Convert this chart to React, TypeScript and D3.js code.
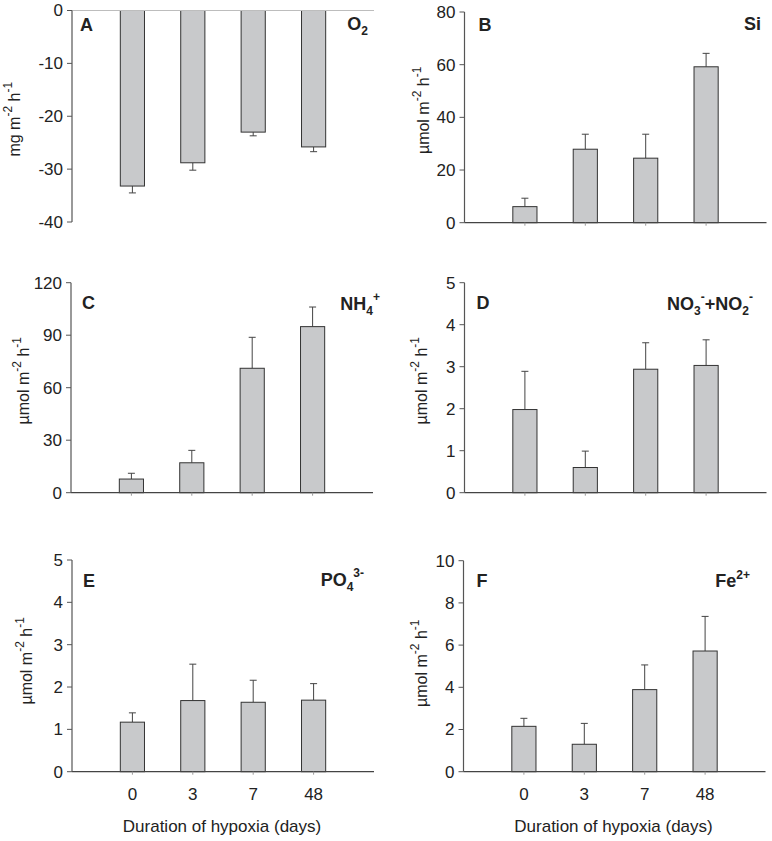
import React from "react";
import * as d3 from "d3";

const categories = ["0", "3", "7", "48"];

const o2Means = [-33.2, -28.8, -23.0, -25.8];
const o2SE = [1.3, 1.4, 0.7, 0.9];
const o2Ticks = [0, -10, -20, -30, -40];

const siMeans = [6.1, 27.9, 24.5, 59.2];
const siSE = [3.2, 5.7, 9.1, 5.1];
const siTicks = [0, 20, 40, 60, 80];

const nh4Means = [7.8, 17.1, 71.1, 94.9];
const nh4SE = [3.3, 7.1, 17.7, 11.2];
const nh4Ticks = [0, 30, 60, 90, 120];

const noxMeans = [1.98, 0.6, 2.94, 3.03];
const noxSE = [0.91, 0.39, 0.63, 0.61];
const noxTicks = [0, 1, 2, 3, 4, 5];

const po4Means = [1.17, 1.68, 1.64, 1.69];
const po4SE = [0.22, 0.86, 0.52, 0.39];
const po4Ticks = [0, 1, 2, 3, 4, 5];

const feMeans = [2.15, 1.3, 3.89, 5.72];
const feSE = [0.38, 0.99, 1.17, 1.64];
const feTicks = [0, 2, 4, 6, 8, 10];

const xLabel = "Duration of hypoxia (days)";

const FONT = "'Liberation Sans', Arial, Helvetica, sans-serif";
const TXT = "#222";

type Panel = {
  letter: string;
  means: number[];
  se: number[];
  ticks: number[];
  unit: "mg" | "umol";
  chem: React.ReactNode;
  axisX: number;
  top: number;
  bottom: number;
  letterDx: number;
  letterDy: number;
  chemRight: number;
  chemBase: number;
  labelX: number;
  labelDy: number;
  showX: boolean;
};

const panels: Panel[] = [
  {
    letter: "A", means: o2Means, se: o2SE, ticks: o2Ticks, unit: "mg",
    chem: (<>O<tspan dy={5} fontSize={12}>2</tspan></>),
    axisX: 72, top: 10.5, bottom: 222, letterDx: 8, letterDy: 20, chemRight: 368, chemBase: 30, labelX: 20, labelDy: 3, showX: false,
  },
  {
    letter: "B", means: siMeans, se: siSE, ticks: siTicks, unit: "umol",
    chem: (<>Si</>),
    axisX: 464.5, top: 12, bottom: 222.7, letterDx: 14, letterDy: 19, chemRight: 761, chemBase: 30, labelX: 429, labelDy: -7, showX: false,
  },
  {
    letter: "C", means: nh4Means, se: nh4SE, ticks: nh4Ticks, unit: "umol",
    chem: (<>NH<tspan dy={5} fontSize={12}>4</tspan><tspan dy={-14} fontSize={12}>+</tspan></>),
    axisX: 71, top: 282.7, bottom: 492.7, letterDx: 11, letterDy: 26, chemRight: 380, chemBase: 310, labelX: 28.5, labelDy: -7, showX: false,
  },
  {
    letter: "D", means: noxMeans, se: noxSE, ticks: noxTicks, unit: "umol",
    chem: (<>NO<tspan dy={5} fontSize={12}>3</tspan><tspan dy={-14} fontSize={12}>-</tspan><tspan dy={9}>+NO</tspan><tspan dy={5} fontSize={12}>2</tspan><tspan dy={-14} fontSize={12}>-</tspan></>),
    axisX: 464.5, top: 282.7, bottom: 492.7, letterDx: 12, letterDy: 26, chemRight: 753, chemBase: 310, labelX: 427, labelDy: -7, showX: false,
  },
  {
    letter: "E", means: po4Means, se: po4SE, ticks: po4Ticks, unit: "umol",
    chem: (<>PO<tspan dy={5} fontSize={12}>4</tspan><tspan dy={-14} fontSize={12}>3-</tspan></>),
    axisX: 72, top: 560, bottom: 771.7, letterDx: 11, letterDy: 27, chemRight: 364, chemBase: 586, labelX: 32, labelDy: -5, showX: true,
  },
  {
    letter: "F", means: feMeans, se: feSE, ticks: feTicks, unit: "umol",
    chem: (<>Fe<tspan dy={-8} fontSize={12}>2+</tspan></>),
    axisX: 463.5, top: 560.7, bottom: 771.7, letterDx: 13, letterDy: 26, chemRight: 750, chemBase: 586.7, labelX: 427, labelDy: -3, showX: true,
  },
];

const PLOT_W = 302;

function PanelView({ p }: { p: Panel }) {
  const yMin = d3.min(p.ticks) as number;
  const yMax = d3.max(p.ticks) as number;
  const y = d3.scaleLinear().domain([yMin, yMax]).range([p.bottom, p.top]);
  const x = d3.scaleLinear().domain([0, categories.length + 1]).range([p.axisX, p.axisX + PLOT_W]);
  const bw = x(0.4) - x(0);
  const y0 = y(0);
  const midY = (p.top + p.bottom) / 2 + p.labelDy;
  return (
    <g>
      {p.means.map((m, i) => {
        const cx = x(i + 1);
        const ym = y(m);
        const dir = m >= 0 ? 1 : -1;
        const ye = y(m + dir * p.se[i]);
        return (
          <g key={i}>
            <line x1={cx} x2={cx} y1={ym} y2={ye} stroke="#444" strokeWidth={1} />
            <line x1={cx - 3.5} x2={cx + 3.5} y1={ye} y2={ye} stroke="#444" strokeWidth={1} />
            <rect
              x={cx - bw / 2}
              y={Math.min(ym, y0)}
              width={bw}
              height={Math.abs(y0 - ym)}
              fill="#c8c9cb"
              stroke="#333"
              strokeWidth={1}
            />
          </g>
        );
      })}
      {yMin < 0 ? (
        <line x1={p.axisX} x2={p.axisX + PLOT_W} y1={y0} y2={y0} stroke="#bdbdbd" strokeWidth={1.2} />
      ) : (
        <g>
          <line x1={p.axisX} x2={p.axisX + PLOT_W} y1={y0} y2={y0} stroke="#444" strokeWidth={1.2} />
          {categories.map((c, i) => (
            <line key={c} x1={x(i + 1)} x2={x(i + 1)} y1={y0} y2={y0 + 3} stroke="#999" strokeWidth={1} />
          ))}
        </g>
      )}
      <line x1={p.axisX} x2={p.axisX} y1={p.top} y2={p.bottom} stroke="#555" strokeWidth={1.2} />
      {p.ticks.map((t) => (
        <g key={t}>
          <line x1={p.axisX - 5} x2={p.axisX} y1={y(t)} y2={y(t)} stroke="#555" strokeWidth={1} />
          <text x={p.axisX - 9} y={y(t)} dy="0.35em" textAnchor="end" fontSize={17} fill={TXT}>
            {t}
          </text>
        </g>
      ))}
      <text transform={`translate(${p.labelX},${midY}) rotate(-90)`} textAnchor="middle" fontSize={16} fill={TXT}>
        {p.unit === "mg" ? "mg m" : "\u00b5mol m"}
        <tspan dy={-8} fontSize={12}>-2</tspan>
        <tspan dy={8}> h</tspan>
        <tspan dy={-8} fontSize={12}>-1</tspan>
      </text>
      <text x={p.axisX + p.letterDx} y={p.top + p.letterDy} fontSize={18} fontWeight="bold" fill={TXT}>
        {p.letter}
      </text>
      <text x={p.chemRight} y={p.chemBase} textAnchor="end" fontSize={18} fontWeight="bold" fill={TXT}>
        {p.chem}
      </text>
      {p.showX &&
        categories.map((c, i) => (
          <text key={c} x={x(i + 1)} y={800} textAnchor="middle" fontSize={17} fill={TXT}>
            {c}
          </text>
        ))}
      {p.showX && (
        <text x={p.axisX + PLOT_W / 2 - 1} y={832} textAnchor="middle" fontSize={17} fill={TXT}>
          {xLabel}
        </text>
      )}
    </g>
  );
}

export default function App() {
  return (
    <svg
      width={772}
      height={841}
      style={{ position: "absolute", left: 0, top: 0, background: "#fff" }}
      fontFamily={FONT}
    >
      <rect width={772} height={841} fill="#fff" />
      {panels.map((p) => (
        <PanelView key={p.letter} p={p} />
      ))}
    </svg>
  );
}
